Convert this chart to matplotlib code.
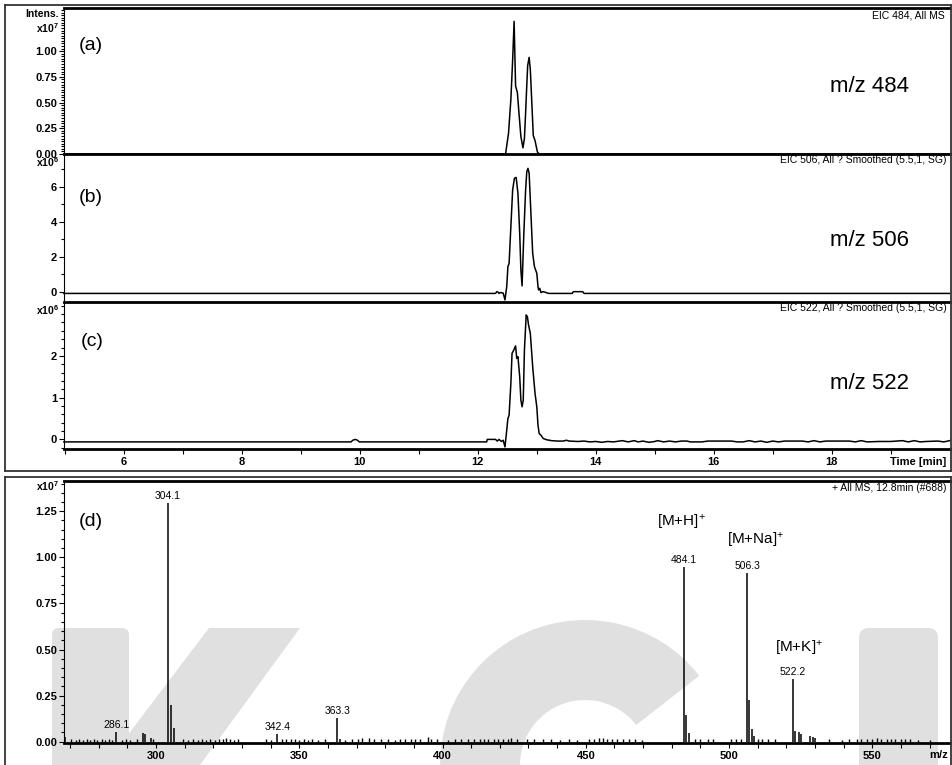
import numpy as np
import matplotlib
matplotlib.use('Agg')
import matplotlib.pyplot as plt
from matplotlib.transforms import Affine2D
from matplotlib.patches import Polygon, Wedge, FancyBboxPatch
from matplotlib.lines import Line2D
from matplotlib.ticker import MultipleLocator, FixedLocator, FormatStrFormatter

plt.rcParams['font.family'] = ['Liberation Sans', 'DejaVu Sans']
plt.rcParams['mathtext.fontset'] = 'custom'
plt.rcParams['mathtext.rm'] = 'Liberation Sans'
plt.rcParams['mathtext.bf'] = 'Liberation Sans:bold'
plt.rcParams['mathtext.it'] = 'Liberation Sans:italic'

# --- EIC traces: (time [min], intensity) ---
eic_484 = [(4.98, 0), (12.45, 0), (12.47, 0.0), (12.52, 0.2), (12.56, 0.53), (12.59, 0.91),
           (12.615, 1.29), (12.64, 0.66), (12.67, 0.6), (12.70, 0.38), (12.73, 0.17),
           (12.765, 0.06), (12.79, 0.15), (12.81, 0.4), (12.83, 0.67), (12.845, 0.86),
           (12.87, 0.94), (12.89, 0.82), (12.92, 0.44), (12.94, 0.18), (12.97, 0.13),
           (13.01, 0.02), (13.04, 0), (20.0, 0)]                       # x1e7

eic_506 = [(4.98, -0.1), (12.30, -0.1), (12.32, 0.0), (12.34, -0.02), (12.36, -0.1),
           (12.38, -0.05), (12.43, -0.08), (12.46, -0.47), (12.49, 0.29), (12.51, 1.43),
           (12.53, 1.62), (12.56, 3.71), (12.59, 5.81), (12.62, 6.48), (12.65, 6.53),
           (12.68, 5.62), (12.71, 3.33), (12.73, 1.24), (12.75, 0.33), (12.78, 3.33),
           (12.81, 5.81), (12.83, 6.86), (12.85, 7.05), (12.87, 6.76), (12.90, 4.48),
           (12.93, 2.19), (12.96, 1.43), (13.00, 1.05), (13.02, 0.29), (13.03, 0.1),
           (13.05, 0.19), (13.07, -0.05), (13.10, 0.0), (13.14, -0.03), (13.20, -0.1),
           (13.60, -0.1), (13.62, 0.0), (13.78, 0.0), (13.80, -0.1), (20.0, -0.1)]  # x1e6

eic_522 = [(4.98, -0.06), (9.85, -0.06), (9.88, -0.02), (9.92, 0.0), (9.96, -0.02),
           (9.99, -0.06), (12.15, -0.06), (12.16, 0.0), (12.30, 0.0), (12.33, -0.04),
           (12.36, 0.0), (12.40, -0.05), (12.43, -0.02), (12.46, -0.18), (12.49, 0.22),
           (12.51, 0.5), (12.53, 0.58), (12.56, 1.34), (12.58, 2.06), (12.61, 2.14),
           (12.64, 2.24), (12.66, 1.94), (12.68, 1.98), (12.71, 1.50), (12.73, 0.94),
           (12.75, 0.78), (12.77, 0.94), (12.79, 2.14), (12.82, 2.98), (12.84, 2.94),
           (12.86, 2.74), (12.89, 2.54), (12.93, 1.74), (12.97, 1.10), (13.00, 0.78),
           (13.02, 0.34), (13.04, 0.14), (13.07, 0.10), (13.11, 0.02), (13.17, -0.01),
           (13.25, -0.03), (13.35, -0.04), (13.45, -0.04), (13.5, -0.02), (13.55, -0.04),
           (13.7, -0.05), (13.8, -0.04), (13.9, -0.06), (14.0, -0.05), (14.1, -0.07),
           (14.2, -0.05), (14.3, -0.06), (14.45, -0.03), (14.55, -0.06), (14.65, -0.03),
           (14.72, -0.06), (14.8, -0.04), (14.9, -0.07), (15.0, -0.05), (15.05, -0.03),
           (15.15, -0.06), (15.25, -0.04), (15.35, -0.06), (15.45, -0.04), (15.55, -0.04),
           (15.6, -0.06), (15.8, -0.06), (15.9, -0.04), (16.3, -0.04), (16.4, -0.06),
           (16.5, -0.06), (16.6, -0.03), (16.7, -0.06), (16.8, -0.04), (16.9, -0.07),
           (17.0, -0.04), (17.1, -0.06), (17.2, -0.04), (17.5, -0.04), (17.6, -0.06),
           (17.7, -0.03), (17.8, -0.06), (17.9, -0.04), (18.3, -0.04), (18.4, -0.06),
           (18.5, -0.03), (18.6, -0.06), (18.8, -0.05), (19.0, -0.05), (19.2, -0.03),
           (19.3, -0.06), (19.4, -0.03), (19.5, -0.06), (19.6, -0.05), (19.8, -0.04),
           (19.9, -0.06), (20.0, -0.03)]                                # x1e6

# --- mass spectrum at 12.8 min: (m/z, intensity x1e7) ---
ms_peaks = [(268.1, 0.027), (286.1, 0.051), (295.4, 0.045), (296.2, 0.04), (298.3, 0.02),
            (304.1, 1.293), (305.2, 0.2), (306.2, 0.076), (342.4, 0.04), (363.3, 0.127),
            (364.2, 0.012), (484.1, 0.949), (484.9, 0.145), (486.1, 0.047), (506.3, 0.915),
            (506.9, 0.226), (508.1, 0.067), (508.7, 0.03), (522.2, 0.34), (523.0, 0.06),
            (524.4, 0.05), (525.0, 0.04), (528.3, 0.03), (529.2, 0.028), (530.0, 0.02)]

ms_noise = [(270.5, 0.012), (272.0, 0.01), (273.2, 0.012), (274.5, 0.01), (275.8, 0.012),
            (277.0, 0.01), (278.3, 0.012), (279.5, 0.01), (281.0, 0.012), (282.2, 0.01),
            (283.5, 0.014), (284.8, 0.01), (288.0, 0.01), (289.5, 0.012), (291.0, 0.01),
            (293.5, 0.012), (299.0, 0.012), (309.5, 0.012), (311.0, 0.01), (313.0, 0.014),
            (314.5, 0.01), (316.0, 0.012), (317.5, 0.01), (319.0, 0.012), (320.5, 0.01),
            (322.0, 0.016), (323.3, 0.012), (324.6, 0.02), (326.0, 0.014), (327.3, 0.01),
            (328.5, 0.012), (338.5, 0.012), (340.0, 0.01), (344.0, 0.012), (345.5, 0.014),
            (347.0, 0.016), (348.5, 0.012), (350.0, 0.01), (351.5, 0.012), (353.0, 0.01),
            (354.5, 0.012), (356.5, 0.01), (359.0, 0.012), (366.0, 0.01), (368.5, 0.012),
            (370.5, 0.014), (372.0, 0.018), (374.5, 0.022), (376.0, 0.012), (378.5, 0.014),
            (381.0, 0.012), (383.5, 0.01), (385.0, 0.012), (387.0, 0.012), (389.0, 0.014),
            (390.5, 0.012), (392.0, 0.014), (394.9, 0.028), (396.0, 0.012), (398.0, 0.012),
            (402.0, 0.01), (404.5, 0.012), (406.5, 0.012), (409.0, 0.014), (411.0, 0.012),
            (413.0, 0.012), (414.5, 0.014), (416.0, 0.012), (418.0, 0.014), (419.5, 0.012),
            (421.0, 0.014), (423.0, 0.016), (424.0, 0.018), (426.0, 0.012), (429.5, 0.012),
            (432.0, 0.014), (435.0, 0.012), (438.0, 0.012), (441.0, 0.01), (444.0, 0.012),
            (447.0, 0.01), (451.0, 0.012), (453.0, 0.016), (454.5, 0.022), (456.0, 0.018),
            (457.5, 0.012), (459.0, 0.014), (461.0, 0.012), (463.0, 0.012), (465.0, 0.012),
            (467.0, 0.012), (469.5, 0.01), (488.0, 0.014), (490.0, 0.012), (492.5, 0.012),
            (494.5, 0.012), (500.5, 0.012), (502.5, 0.012), (504.0, 0.012), (510.0, 0.016),
            (511.5, 0.012), (513.5, 0.012), (516.0, 0.012), (535.0, 0.012), (539.5, 0.01),
            (542.0, 0.012), (544.5, 0.012), (546.0, 0.012), (548.0, 0.014), (550.0, 0.012),
            (551.5, 0.02), (553.0, 0.014), (555.0, 0.012), (556.5, 0.014), (558.0, 0.012),
            (560.0, 0.014), (561.5, 0.012), (563.0, 0.012), (566.0, 0.01), (570.0, 0.01)]

labelled = [304.1, 286.1, 342.4, 363.3, 484.1, 506.3, 522.2]
ion_labels = [(r'[M+H]$^{+}$', 483.5, 1.19), (r'[M+Na]$^{+}$', 509.3, 1.094),
              (r'[M+K]$^{+}$', 524.3, 0.508)]

W, H = 952, 765
fig = plt.figure(figsize=(W / 100, H / 100), dpi=100)
fig.patch.set_facecolor('white')
px = Affine2D().scale(1 / W, -1 / H).translate(0, 1) + fig.transFigure

# faint watermark behind the spectrum
wm = '#e0e0e0'
fig.add_artist(FancyBboxPatch((52, 628), 77, 160, boxstyle='round,pad=0,rounding_size=7',
                              fc=wm, ec='none', transform=px, zorder=-1))
fig.add_artist(Polygon([(209, 628), (300, 628), (200, 765), (105, 765)], closed=True,
                       fc=wm, ec='none', transform=px, zorder=-1))
fig.add_artist(Wedge((585, 765), 145, 160, 322, width=80, fc=wm, ec='none',
                     transform=px, zorder=-1))
fig.add_artist(FancyBboxPatch((859, 628), 79, 160, boxstyle='round,pad=0,rounding_size=10',
                              fc=wm, ec='none', transform=px, zorder=-1))


def box(top, bottom):
    return [64 / W, 1 - bottom / H, 886 / W, (bottom - top) / H]


def style(ax, xaxis=False):
    ax.set_facecolor('none')
    ax.spines['right'].set_visible(False)
    ax.spines['top'].set_linewidth(2.0)
    ax.spines['left'].set_linewidth(0.8)
    ax.tick_params(axis='y', which='both', direction='out', width=0.8, labelsize=8, pad=1.5)
    ax.tick_params(axis='y', which='major', length=3.5)
    ax.tick_params(axis='y', which='minor', length=2.5)
    if xaxis:
        ax.spines['bottom'].set_linewidth(2.0)
        ax.tick_params(axis='x', which='both', direction='out', width=0.8, length=3.5,
                       labelsize=8, pad=2)
    else:
        ax.spines['bottom'].set_visible(False)
        ax.set_xticks([])


ax_a = fig.add_axes(box(8, 154))
ax_b = fig.add_axes(box(154, 302))
ax_c = fig.add_axes(box(302, 449))
ax_d = fig.add_axes(box(481, 743))

for ax, trace in [(ax_a, eic_484), (ax_b, eic_506), (ax_c, eic_522)]:
    t, v = np.array(trace).T
    ax.plot(t, v, color='black', lw=1.1, clip_on=False, solid_joinstyle='round')
    ax.set_xlim(4.983, 20.006)

style(ax_a)
style(ax_b)
style(ax_c, xaxis=True)
style(ax_d, xaxis=True)

ax_a.set_ylim(0, 1.42)
ax_a.yaxis.set_major_locator(FixedLocator([0, 0.25, 0.5, 0.75, 1.0]))
ax_a.yaxis.set_minor_locator(MultipleLocator(0.025))
ax_a.yaxis.set_major_formatter(FormatStrFormatter('%.2f'))

ax_b.set_ylim(-0.59, 7.87)
ax_b.yaxis.set_major_locator(FixedLocator([0, 2, 4, 6]))
ax_b.yaxis.set_minor_locator(MultipleLocator(1))

ax_c.set_ylim(-0.23, 3.29)
ax_c.yaxis.set_major_locator(FixedLocator([0, 1, 2]))
ax_c.yaxis.set_minor_locator(MultipleLocator(0.2))
ax_c.xaxis.set_major_locator(FixedLocator([6, 8, 10, 12, 14, 16, 18]))
ax_c.xaxis.set_minor_locator(FixedLocator([5, 7, 9, 11, 13, 15, 17, 19]))

# spectrum
mz, inten = np.array(ms_peaks).T
nmz, ninten = np.array(ms_noise).T
ax_d.vlines(nmz, 0, ninten, color='black', lw=1.0)
ax_d.vlines(mz, 0, inten, color='black', lw=1.1)
ax_d.set_xlim(267.9, 577.1)
ax_d.set_ylim(-0.007, 1.414)
ax_d.yaxis.set_major_locator(FixedLocator([0, 0.25, 0.5, 0.75, 1.0, 1.25]))
ax_d.yaxis.set_minor_locator(MultipleLocator(0.05))
ax_d.yaxis.set_major_formatter(FormatStrFormatter('%.2f'))
ax_d.xaxis.set_major_locator(FixedLocator([300, 350, 400, 450, 500, 550]))
ax_d.xaxis.set_minor_locator(FixedLocator(np.arange(270, 575, 10)))

for ax in [ax_a, ax_b, ax_c, ax_d]:
    for lbl in ax.get_yticklabels() + ax.get_xticklabels():
        lbl.set_fontweight('bold')

for m, i in ms_peaks:
    if m in labelled:
        ax_d.annotate(f'{m:.1f}', (m, i), xytext=(0, 1.5), textcoords='offset points',
                      ha='center', va='bottom', fontsize=7.5)
for txt, m, y in ion_labels:
    ax_d.text(m, y, txt, ha='center', va='center', fontsize=11)

# panel texts (pixel positions)
texts = [
    ('Intens.', 59, 14, 'right', 7.5, 'bold'),
    (r'x10$^{\mathbf{7}}$', 59, 28, 'right', 7.5, 'bold'),
    (r'x10$^{\mathbf{6}}$', 59, 162, 'right', 7.5, 'bold'),
    (r'x10$^{\mathbf{6}}$', 59, 310, 'right', 7.5, 'bold'),
    (r'x10$^{\mathbf{7}}$', 59, 486, 'right', 7.5, 'bold'),
    ('(a)', 79, 46, 'left', 14, 'normal'),
    ('(b)', 79, 197, 'left', 14, 'normal'),
    ('(c)', 81, 342, 'left', 14, 'normal'),
    ('(d)', 79, 522, 'left', 14, 'normal'),
    ('m/z 484', 909, 86, 'right', 16, 'normal'),
    ('m/z 506', 909, 240, 'right', 16, 'normal'),
    ('m/z 522', 909, 384, 'right', 16, 'normal'),
    ('EIC 484, All MS', 945, 15, 'right', 7.5, 'normal'),
    ('EIC 506, All ? Smoothed (5.5,1, SG)', 947, 160, 'right', 7.5, 'normal'),
    ('EIC 522, All ? Smoothed (5.5,1, SG)', 947, 308, 'right', 7.5, 'normal'),
    ('+ All MS, 12.8min (#688)', 947, 488, 'right', 7.5, 'normal'),
    ('Time [min]', 946, 462, 'right', 8, 'bold'),
    ('m/z', 948, 755, 'right', 8, 'bold'),
]
for s, x, y, ha, fs, fw in texts:
    fig.text(x, y, s, transform=px, ha=ha, va='center', fontsize=fs, fontweight=fw)

# outer frames
frame = [((4.5, 4.5), (5, 471)), ((4.5, 950.5), (5, 5)), ((950.5, 950.5), (5, 471)),
         ((4.5, 950.5), (471, 471)), ((4.5, 950.5), (477, 477)), ((4.5, 4.5), (477, 766)),
         ((950.5, 950.5), (477, 766))]
for xs, ys in frame:
    fig.add_artist(Line2D(xs, ys, color='#333333', lw=1.3, transform=px, zorder=5))

fig.savefig('out.png', dpi=100, facecolor='white')
